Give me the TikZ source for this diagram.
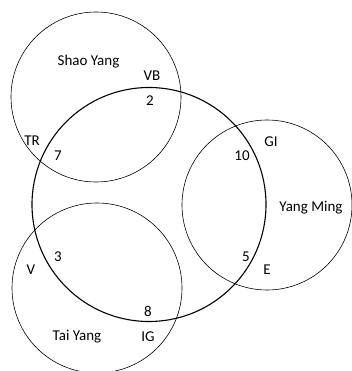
\documentclass[tikz,border=0pt]{standalone}
\usepackage{fontspec}
\setmainfont{Carlito}
\usetikzlibrary{positioning}
\tikzset{
    meridiano/.style={draw, line width=0.6pt},
    central/.style={draw, line width=1.1pt},
    etiqueta/.style={inner sep=0pt, font=\fontsize{15}{16}\selectfont},
}

\begin{document}
\begin{tikzpicture}[x=1pt, y=-1pt]
\useasboundingbox (0,0) rectangle (351,371);

% Circulos de los tres meridianos
\draw[meridiano] (96,97) circle (85);
\draw[meridiano] (97,288) circle (85);
\draw[meridiano] (267,205) circle (85);

% Circulo central
\draw[central] (149,204.5) circle (117);

% Nombres de los circulos
\node[etiqueta] (shao) at (88.5,62) {Shao Yang};
\node[etiqueta] (ming) at (311,208) {Yang Ming};
\node[etiqueta] (tai) at (77,337) {Tai Yang};

% Puntos de cruce
\node[etiqueta] (vb) at (152,76) {VB};
\node[etiqueta] (n2) at (150,101) {2};
\node[etiqueta] (tr) at (32,141) {TR};
\node[etiqueta] (n7) at (58,156) {7};
\node[etiqueta] (gi) at (271,142) {GI};
\node[etiqueta] (n10) at (242,156) {10};
\node[etiqueta] (n5) at (246,257) {5};
\node[etiqueta] (e) at (267,270) {E};
\node[etiqueta] (n3) at (58,257) {3};
\node[etiqueta] (v) at (31,270) {V};
\node[etiqueta] (n8) at (148,311) {8};
\node[etiqueta] (ig) at (148,337) {IG};
\end{tikzpicture}
\end{document}
